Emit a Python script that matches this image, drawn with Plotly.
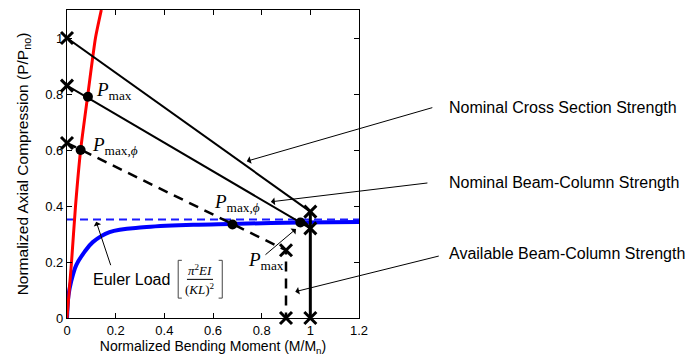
import plotly.graph_objects as go

# ---- data ----
red_x = [0.0, 0.0186, 0.035, 0.056, 0.086, 0.117, 0.141]
red_y = [0.0, 0.2, 0.4, 0.6, 0.8, 1.0, 1.1]

blue_x = [0.0, 0.002, 0.006, 0.017, 0.038, 0.072, 0.106, 0.175, 0.313, 0.519, 0.67, 0.96, 1.2]
blue_y = [0.0, 0.035, 0.08, 0.13, 0.189, 0.236, 0.271, 0.307, 0.324, 0.333, 0.336, 0.341, 0.343]

euler_level = 0.352
euler_x = [0.0, 1.2]

cross_x = [0.0, 1.0, 1.0]
cross_y = [1.0, 0.38, 0.0]

nominal_x = [0.0, 1.0]
nominal_y = [0.83, 0.32]

avail_x = [0.0, 0.9, 0.9]
avail_y = [0.625, 0.242, 0.0]

xmark_x = [0.0, 0.0, 0.0, 1.0, 1.0, 1.0, 0.9, 0.9]
xmark_y = [1.0, 0.83, 0.625, 0.38, 0.32, 0.0, 0.242, 0.0]

dot_x = [0.086, 0.056, 0.68, 0.959]
dot_y = [0.79, 0.6, 0.334, 0.341]

x_ticks = [0, 0.2, 0.4, 0.6, 0.8, 1, 1.2]
y_ticks = [0, 0.2, 0.4, 0.6, 0.8, 1]

legend_texts = ["Nominal Cross Section Strength", "Nominal Beam-Column Strength", "Available Beam-Column Strength"]

fig = go.Figure()
fig.add_trace(go.Scatter(x=euler_x, y=[euler_level] * 2, mode="lines",
                         line=dict(color="#1a1aff", width=2, dash="8px,5px")))
fig.add_trace(go.Scatter(x=blue_x, y=blue_y, mode="lines", line=dict(color="#0000ff", width=4, shape="spline")))
fig.add_trace(go.Scatter(x=red_x, y=red_y, mode="lines", line=dict(color="#ff0000", width=3, shape="spline", smoothing=0.6)))
fig.add_trace(go.Scatter(x=cross_x[:2], y=cross_y[:2], mode="lines", line=dict(color="black", width=2)))
fig.add_trace(go.Scatter(x=cross_x[1:], y=cross_y[1:], mode="lines", line=dict(color="black", width=3)))
fig.add_trace(go.Scatter(x=nominal_x, y=nominal_y, mode="lines", line=dict(color="black", width=2)))
fig.add_trace(go.Scatter(x=avail_x, y=avail_y, mode="lines", line=dict(color="black", width=2.5, dash="10px,7px")))
fig.add_trace(go.Scatter(x=xmark_x, y=xmark_y, mode="markers", cliponaxis=False,
                         marker=dict(symbol="x-thin", size=12, line=dict(color="black", width=3))))
fig.add_trace(go.Scatter(x=dot_x, y=dot_y, mode="markers", cliponaxis=False,
                         marker=dict(symbol="circle", size=10, color="black")))

serif = "Liberation Serif, Times New Roman, serif"
sans = "Liberation Sans, Arial, sans-serif"
ann = []

def pl(x, y, sub):
    ann.append(dict(x=x, y=y, xref="x", yref="y", showarrow=False, xanchor="left", yanchor="middle",
                    text="<i>P</i><sub>%s</sub>" % sub, font=dict(family=serif, size=19, color="black")))

pl(0.112, 0.81, "max")
pl(0.093, 0.615, "max,<i>ϕ</i>")
pl(0.595, 0.41, "max,<i>ϕ</i>")
pl(0.735, 0.205, "max")

ann.append(dict(x=0.1, y=0.136, xref="x", yref="y", showarrow=False, xanchor="left", yanchor="middle",
                text="Euler Load", font=dict(family=sans, size=16, color="black")))
ann.append(dict(x=0.546, y=0.171, xref="x", yref="y", showarrow=False, xanchor="center", yanchor="middle",
                text="<i>π</i><sup>2</sup><i>EI</i>", font=dict(family=serif, size=13, color="black")))
ann.append(dict(x=0.546, y=0.104, xref="x", yref="y", showarrow=False, xanchor="center", yanchor="middle",
                text="(<i>KL</i>)<sup>2</sup>", font=dict(family=serif, size=13, color="black")))

for txt, yy in zip(legend_texts, [0.682, 0.441, 0.209]):
    ann.append(dict(x=1.3, y=yy, xref="paper", yref="paper", showarrow=False, xanchor="left", yanchor="middle",
                    text=txt, font=dict(family=sans, size=16, color="black")))

for tx, ty, ax, ay in [(0.739, 0.56, 187, -54), (0.838, 0.415, 158, -19), (0.938, 0.094, 145, -36),
                       (0.941, 0.318, -32, 27), (0.12, 0.344, 15, 45)]:
    ann.append(dict(x=tx, y=ty, xref="x", yref="y", text="", showarrow=True, ax=ax, ay=ay,
                    arrowhead=1, arrowsize=1.3, arrowwidth=1, arrowcolor="black", standoff=0))

shapes = [
    dict(type="path", xref="x", yref="y", path="M 0.472,0.206 L 0.457,0.206 L 0.457,0.071 L 0.472,0.071",
         line=dict(color="#444", width=1)),
    dict(type="path", xref="x", yref="y", path="M 0.623,0.206 L 0.638,0.206 L 0.638,0.071 L 0.623,0.071",
         line=dict(color="#444", width=1)),
    dict(type="line", xref="x", yref="y", x0=0.493, x1=0.6, y0=0.138, y1=0.138, line=dict(color="black", width=1)),
]

axis_common = dict(showgrid=False, zeroline=False, showline=True, linecolor="black", linewidth=1.3,
                   mirror="ticks", ticks="inside", ticklen=5, tickcolor="black",
                   tickfont=dict(family=sans, size=13, color="black"))

fig.update_layout(
    width=686, height=360, margin=dict(l=67, r=327, t=9, b=40),
    paper_bgcolor="white", plot_bgcolor="white", showlegend=False,
    xaxis=dict(range=[0, 1.2], tickvals=x_ticks, ticktext=[str(v) for v in x_ticks],
               title=dict(text="Normalized Bending Moment (M/M<sub>n</sub>)", standoff=3,
                          font=dict(family=sans, size=14, color="black")), **axis_common),
    yaxis=dict(range=[0, 1.1], tickvals=y_ticks, ticktext=[str(v) for v in y_ticks],
               title=dict(text="Normalized Axial Compression (P/P<sub>no</sub>)", standoff=12,
                          font=dict(family=sans, size=15.5, color="black")), **axis_common),
    annotations=ann, shapes=shapes,
)

fig.write_html("out.html")
